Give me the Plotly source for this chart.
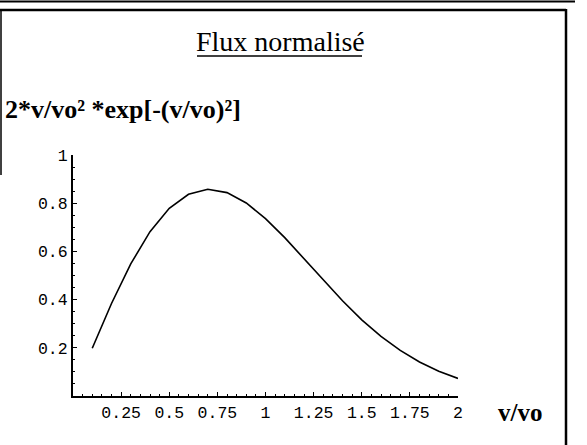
import plotly.graph_objects as go

# Data
v_ratio = [0.1, 0.2, 0.3, 0.4, 0.5, 0.6, 0.7, 0.8, 0.9, 1.0,
           1.1, 1.2, 1.3, 1.4, 1.5, 1.6, 1.7, 1.8, 1.9, 2.0]
flux = [0.198, 0.384, 0.548, 0.682, 0.779, 0.837, 0.858, 0.844, 0.801, 0.736,
        0.657, 0.569, 0.480, 0.395, 0.316, 0.247, 0.189, 0.141, 0.103, 0.073]
x_tickvals = [0.25, 0.5, 0.75, 1, 1.25, 1.5, 1.75, 2]
x_ticktext = ["0.25", "0.5", "0.75", "1", "1.25", "1.5", "1.75", "2"]
y_tickvals = [0.2, 0.4, 0.6, 0.8, 1.0]
y_ticktext = ["0.2", "0.4", "0.6", "0.8", "1"]

W, H = 587, 445
L, R, T, B = 73, 129, 155, 49
PW, PH = W - L - R, H - T - B


def px(x):
    return (x - L) / PW


def py(y):
    return (H - B - y) / PH


fig = go.Figure()
fig.add_trace(go.Scatter(x=v_ratio, y=flux, mode="lines",
                         line=dict(color="black", width=1.6),
                         cliponaxis=False, showlegend=False))

mono = dict(family="Liberation Mono, Courier New, monospace", size=16.5, color="black")
serif = "Liberation Serif, Times New Roman, serif"

fig.update_xaxes(range=[0, 2], showline=True, linecolor="black", linewidth=2,
                 showgrid=False, zeroline=False, ticks="inside", ticklen=4,
                 tickcolor="black", tickwidth=1,
                 tickvals=x_tickvals, ticktext=x_ticktext, tickfont=mono,
                 minor=dict(ticks="inside", ticklen=2, dtick=0.05,
                            tickcolor="black", showgrid=False))
fig.update_yaxes(range=[0, 1.0], showline=True, linecolor="black", linewidth=2,
                 showgrid=False, zeroline=False, ticks="inside", ticklen=4,
                 tickcolor="black", tickwidth=1,
                 tickvals=y_tickvals, ticktext=y_ticktext, tickfont=mono,
                 minor=dict(ticks="inside", ticklen=2, dtick=0.05,
                            tickcolor="black", showgrid=False))

shapes = [
    # scanned top edge
    dict(type="line", x0=px(0), x1=px(575), y0=py(1.5), y1=py(1.5),
         line=dict(color="black", width=2)),
    # frame
    dict(type="line", x0=px(0), x1=px(566), y0=py(10), y1=py(10),
         line=dict(color="black", width=2.5)),
    dict(type="line", x0=px(566), x1=px(566), y0=py(9), y1=py(445),
         line=dict(color="black", width=2.5)),
    dict(type="line", x0=px(1), x1=px(1), y0=py(10), y1=py(175),
         line=dict(color="black", width=1.5)),
    # title underline
    dict(type="line", x0=px(197), x1=px(362), y0=py(56), y1=py(56),
         line=dict(color="black", width=1.3)),
]
for s in shapes:
    s.update(xref="paper", yref="paper", layer="above")
fig.update_layout(shapes=shapes)

fig.add_annotation(text="Flux normalisé", xref="paper", yref="paper",
                   x=px(280), y=py(42), xanchor="center", yanchor="middle",
                   showarrow=False, font=dict(family=serif, size=28, color="black"))
fig.add_annotation(text="<b>2*v/vo² *exp[-(v/vo)²]</b>", xref="paper", yref="paper",
                   x=px(3), y=py(109), xanchor="left", yanchor="middle",
                   showarrow=False, font=dict(family=serif, size=26, color="black"))
fig.add_annotation(text="<b>v/vo</b>", xref="paper", yref="paper",
                   x=px(520), y=py(412), xanchor="center", yanchor="middle",
                   showarrow=False, font=dict(family=serif, size=25, color="black"))

fig.update_layout(width=W, height=H,
                  margin=dict(l=L, r=R, t=T, b=B, pad=0),
                  paper_bgcolor="white", plot_bgcolor="white")

fig.write_html("out.html", config={"displayModeBar": False},
               post_script="document.body.style.margin='0';document.body.style.overflow='hidden';")
